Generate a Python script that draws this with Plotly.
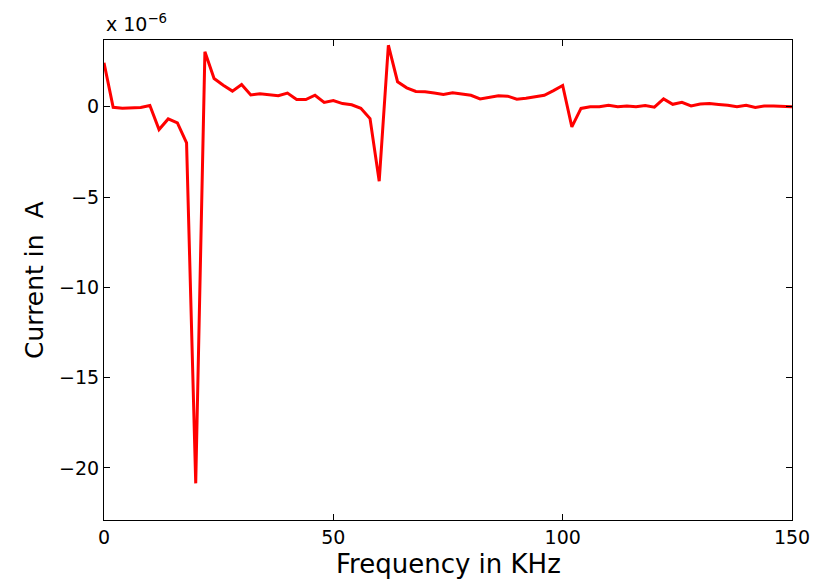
import plotly.graph_objects as go

freq_khz = list(range(0, 152, 2))
current_ua = [
    2.44, -0.03, -0.08, -0.06, -0.04, 0.07, -1.26, -0.67, -0.89, -2.0,
    -20.85, 3.05, 1.57, 1.2, 0.87, 1.24, 0.66, 0.72, 0.67, 0.61,
    0.76, 0.40, 0.40, 0.64, 0.24, 0.35, 0.18, 0.11, -0.08, -0.65,
    -4.12, 3.41, 1.39, 1.05, 0.85, 0.83, 0.76, 0.68, 0.78, 0.72,
    0.64, 0.44, 0.53, 0.61, 0.59, 0.42, 0.48, 0.55, 0.64, 0.9,
    1.18, -1.11, -0.09, 0.0, 0.0, 0.09, 0.0, 0.05, 0.0, 0.07,
    -0.02, 0.44, 0.14, 0.25, 0.05, 0.15, 0.18, 0.13, 0.09, 0.0,
    0.09, -0.04, 0.05, 0.05, 0.03, 0.0,
]
x_ticks = [0, 50, 100, 150]
y_ticks = [-20, -15, -10, -5, 0]
y_tick_labels = ["\u221220", "\u221215", "\u221210", "\u22125", "0"]

font_family = "DejaVu Sans"

fig = go.Figure()
fig.add_trace(go.Scatter(
    x=freq_khz, y=current_ua, mode="lines",
    line=dict(color="#ff0000", width=3),
    showlegend=False,
))

# page body has an 8px default margin; figure offset accordingly
fig.update_layout(
    width=811, height=571,
    margin=dict(l=96, r=27, t=32, b=59),
    paper_bgcolor="white", plot_bgcolor="white",
    font=dict(family=font_family, color="black", size=19),
    xaxis=dict(
        range=[0, 150], tickvals=x_ticks, ticktext=[str(v) for v in x_ticks],
        showgrid=False, zeroline=False, automargin=False,
        showline=True, linecolor="black", linewidth=1, mirror="ticks",
        ticks="inside", ticklen=6, tickcolor="black",
        tickfont=dict(size=19),
    ),
    yaxis=dict(
        range=[-22.88, 3.70], tickvals=y_ticks, ticktext=y_tick_labels,
        showgrid=False, zeroline=False, automargin=False,
        showline=True, linecolor="black", linewidth=1, mirror="ticks",
        ticks="inside", ticklen=6, tickcolor="black",
        tickfont=dict(size=19),
    ),
    annotations=[
        dict(
            text="x 10<sup>\u22126</sup>", xref="paper", yref="paper",
            x=0, y=1, xanchor="left", yanchor="bottom", yshift=3,
            showarrow=False, font=dict(size=19, family=font_family),
        ),
        dict(
            text="Frequency in KHz", xref="paper", yref="paper",
            x=0.5, y=0, xanchor="center", yanchor="middle", yshift=-44,
            showarrow=False, font=dict(size=26, family=font_family),
        ),
        dict(
            text="Current in\u00a0 A", xref="paper", yref="paper",
            x=0, y=0.5, xanchor="center", yanchor="middle", xshift=-70,
            textangle=-90,
            showarrow=False, font=dict(size=25, family=font_family),
        ),
    ],
)

fig.write_html("out.html")
